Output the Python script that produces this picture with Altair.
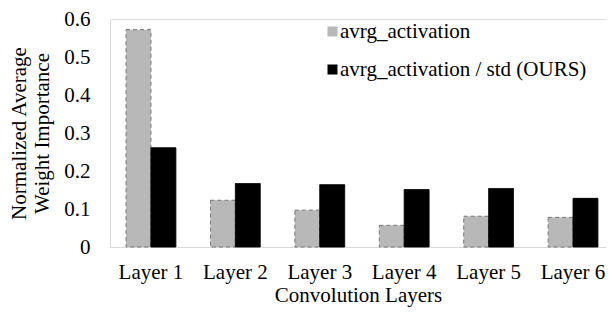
import altair as alt
import pandas as pd

layers = ["Layer 1", "Layer 2", "Layer 3", "Layer 4", "Layer 5", "Layer 6"]
series = ["avrg_activation", "avrg_activation / std (OURS)"]
avrg = [0.572, 0.123, 0.097, 0.057, 0.081, 0.078]
ours = [0.261, 0.167, 0.164, 0.151, 0.154, 0.128]
y_ticks = [0, 0.1, 0.2, 0.3, 0.4, 0.5, 0.6]

rows = []
for i, l in enumerate(layers):
    rows.append({"layer": l, "series": series[0], "value": avrg[i]})
    rows.append({"layer": l, "series": series[1], "value": ours[i]})
df = pd.DataFrame(rows)

FONT = "Times New Roman, Liberation Serif, Times, serif"
FS = 21

chart = alt.Chart(df).mark_bar(strokeWidth=1).encode(
    x=alt.X("layer:N", sort=layers,
            scale=alt.Scale(paddingInner=0.41, paddingOuter=0.143, align=0.665),
            axis=alt.Axis(title="Convolution Layers", labelAngle=0, ticks=False,
                          domainColor="#d9d9d9", labelFontSize=FS, titleFontSize=FS,
                          titleFontWeight="normal",
                          labelPadding=14, titlePadding=2, labelColor="#000", titleColor="#000")),
    xOffset=alt.XOffset("series:N", sort=series, scale=alt.Scale(domain=series)),
    y=alt.Y("value:Q",
            scale=alt.Scale(domain=[0, 0.6], nice=False),
            axis=alt.Axis(title=["Normalized Average", "Weight Importance"], values=y_ticks,
                          labelExpr="datum.value == 0 ? '0' : format(datum.value, '.1f')",
                          grid=False, domain=False, ticks=False, labelFontSize=FS,
                          titleFontSize=FS,
                          titleFontWeight="normal", labelPadding=20, titlePadding=11,
                          labelColor="#000", titleColor="#000", titleLineHeight=23)),
    color=alt.Color("series:N", sort=series,
                    scale=alt.Scale(domain=series, range=["#b8b8b8", "#000000"]),
                    legend=alt.Legend(title=None, orient="none", legendX=212, legendY=2,
                                      symbolType="square", symbolSize=100,
                                      symbolStrokeWidth=0, labelFontSize=FS,
                                      labelColor="#000", rowPadding=16, padding=0,
                                      labelOffset={"expr": "-3"}, labelLimit=400)),
    stroke=alt.Stroke("series:N", sort=series,
                      scale=alt.Scale(domain=series, range=["#777777", "#000000"]),
                      legend=None),
    strokeDash=alt.StrokeDash("series:N", sort=series,
                              scale=alt.Scale(domain=series, range=[[4, 3], [1, 0]]),
                              legend=None),
).properties(
    width=496, height=228,
    autosize=alt.AutoSizeParams(type="none"),
    padding={"left": 102, "top": 11, "right": 0, "bottom": 60},
).configure_view(stroke=None).configure(background="white", font=FONT)

chart.save("out.html", embed_options={"renderer": "svg", "actions": False})
